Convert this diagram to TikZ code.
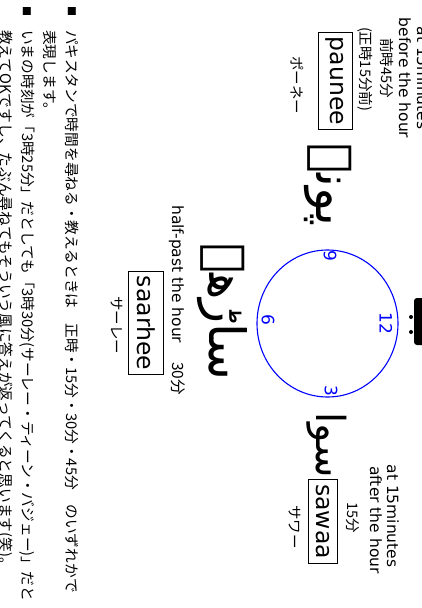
\documentclass[tikz,border=0pt]{standalone}
\usepackage{fontspec}
\setmainfont{DejaVu Sans}
\newfontfamily\jp{Noto Sans CJK JP}
\newfontfamily\ur[Script=Arabic]{DejaVu Sans}
\TeXXeTstate=1
\begin{document}
\begin{tikzpicture}[x=1pt,y=-1pt,
  every node/.style={rotate=-90, inner sep=0pt},
  lbl/.style={font=\fontsize{15.5}{18}\selectfont},
  jlbl/.style={font=\jp\fontsize{14.5}{18}\selectfont},
  body/.style={font=\jp\fontsize{14.7}{18}\selectfont, anchor=west},
  bullet/.style={font=\jp\fontsize{10}{12}\selectfont},
  word/.style={draw, line width=0.9pt, inner xsep=4.5pt, inner ysep=8pt, font=\fontsize{23.5}{28}\selectfont},
  urdu/.style={font=\ur\fontsize{50}{56}\selectfont},
  num/.style={text=blue, font=\fontsize{17}{20}\selectfont},
  clockface/.style={draw=blue, line width=1.1pt}]
\useasboundingbox (0,0) rectangle (422,608);
\clip (0,0) rectangle (422,608);
% top-left block (paunee)
\node[lbl] (p1) at (423,78) {at 15minutes};
\node[lbl] (p2) at (405,78) {before the hour};
\node[jlbl] (p3) at (387,68) {前時45分};
\node[jlbl] (p4) at (365,69) {(正時15分前)};
\node[word] (paunee) at (335,81) {paunee};
\node[jlbl] (pk) at (297,85) {ポーネー};
\node[urdu] (pu) at (328,185) {\beginR پونے\endR};
% fragment at top edge
\fill[rounded corners=3pt] (414,298) rectangle (426,345);
\fill (411,317) circle (2);
\fill (411,332) circle (2);
% clock
\draw[clockface] (327.5,323.5) ellipse [x radius=70.5, y radius=73.5];
\node[num] (n12) at (386,323) {12};
\node[num] (n3) at (331,391) {3};
\node[num] (n6) at (268,320) {6};
\node[num] (n9) at (330,256) {9};
% sawaa block
\node[urdu, font=\ur\fontsize{40}{44}\selectfont] (su) at (327,445) {\beginR سوا\endR};
\node[lbl] (s1) at (393,516) {at 15minutes};
\node[lbl] (s2) at (376,520) {after the hour};
\node[jlbl] (s3) at (353,518) {15分};
\node[word] (sawaa) at (323,521.5) {sawaa};
\node[jlbl] (sk) at (295,527) {サワー};
% saarhee block
\node[urdu] (hu) at (222,312) {\beginR ساڑھے\endR};
\node[lbl, anchor=west] (h1) at (177,205) {half-past the hour\hspace{19pt}{\jp 30分}};
\node[word] (saarhee) at (146,323) {saarhee};
\node[jlbl] (hk) at (117,325) {サーレー};
% body text
\node[bullet] (b1) at (72,11) {■};
\node[bullet] (b2) at (27,11) {■};
\node[body] (t1) at (72,30) {パキスタンで時間を尋ねる・教えるときは　正時・15分・30分・45分　のいずれかで};
\node[body] (t2) at (50,30) {表現します。};
\node[body] (t3) at (27,30) {いまの時刻が「3時25分」だとしても「3時30分(サーレー・ティーン・バジェー)」だと};
\node[body] (t4) at (5,30) {教えてOKですし、たぶん尋ねてもそういう風に答えが返ってくると思います(笑)。};
\end{tikzpicture}
\end{document}
